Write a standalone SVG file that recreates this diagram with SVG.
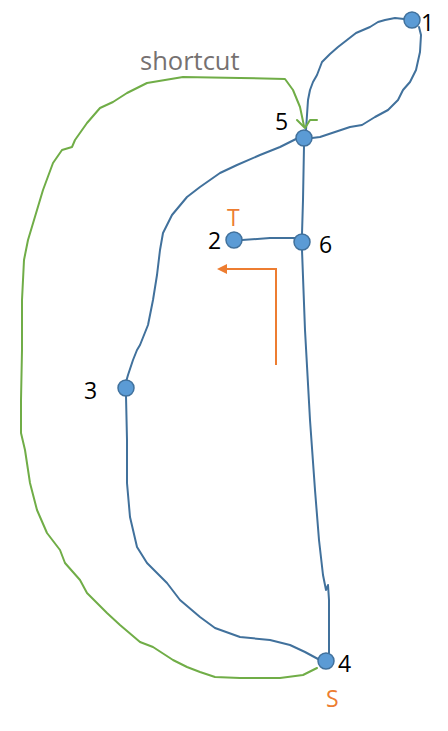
<svg xmlns="http://www.w3.org/2000/svg" width="448" height="731" viewBox="0 0 448 731">
<style>
.e{fill:none;stroke:#41719c;stroke-width:2;stroke-linejoin:round;stroke-linecap:round}
.g{fill:none;stroke:#70ad47;stroke-width:2;stroke-linejoin:round;stroke-linecap:round}
.o{fill:none;stroke:#ed7d31;stroke-width:2}
.n{fill:#5b9bd5;stroke:#41719c;stroke-width:1.5}
.l{font-family:"Open Sans","Noto Sans",sans-serif;font-size:23px;fill:#000}
.st{font-family:"Open Sans","Noto Sans",sans-serif;font-size:23px;fill:#ed7d31}
</style>
<defs>
<marker id="oa" markerWidth="10" markerHeight="10" refX="8" refY="5" orient="auto" markerUnits="userSpaceOnUse">
<path d="M0,0 L10,5 L0,10 Z" fill="#ed7d31"/>
</marker>
</defs>
<g id="connectors">
<path class="e" d="M404,19 L395,18 L385,20 L378,22 L370,27 L356,33 L347,40 L338,47 L330,54 L322,62 L317,75 L313,82 L310,90 L308,100 L307,115 L306,130"/>
<path class="e" d="M419,27 L421,35 L420,52 L416,70 L410,82 L403,90 L398,100 L388,110 L375,117 L362,125 L350,127 L335,132 L320,137 L312,138"/>
<path class="e" d="M298,138 L280,147 L260,155 L237,165 L220,173 L200,187 L187,197 L172,215 L163,233 L160,250 L157,275 L153,300 L148,325 L140,345 L137,350 L133,360 L128,375 L126,382"/>
<path class="e" d="M126,396 L127,440 L127,483 L130,517 L137,547 L147,563 L167,583 L180,600 L200,617 L215,628 L240,637 L270,640 L290,645 L305,652 L318,659"/>
<path class="e" d="M304,146 L303,200 L302,234"/>
<path class="e" d="M242,240 L270,238 L302,238"/>
<path class="e" d="M302,250 L305,330 L310,420 L315,490 L319,540 L323,575 L326,590 L328,585 L329,600 L329,653"/>
<path class="g" d="M317,668 L303,675 L280,678 L260,678 L240,678 L215,677 L200,672 L187,667 L173,660 L153,647 L140,642 L120,625 L107,613 L87,593 L80,580 L65,563 L60,550 L47,533 L37,510 L30,483 L25,450 L21,433 L21,400 L22,350 L22,300 L24,260 L28,240 L37,210 L43,190 L53,163 L62,150 L72,147 L75,140 L87,123 L100,108 L113,102 L127,93 L147,83 L183,77 L240,78 L285,79 L293,90 L300,107 L304,126"/>
<path class="g" d="M297,120 L305,128 L310,120 L317,120"/>
<path class="o" d="M276,365 L276,269 L219,269" marker-end="url(#oa)"/>
</g>
<g id="node1"><circle class="n" cx="412" cy="20" r="8"/><text class="l" x="421" y="31">1</text></g>
<g id="node5"><circle class="n" cx="304" cy="138" r="8"/><text class="l" x="275" y="130">5</text></g>
<g id="node2"><circle class="n" cx="234" cy="240" r="8"/><text class="l" x="208" y="249">2</text><text class="st" x="227" y="226">T</text></g>
<g id="node6"><circle class="n" cx="302" cy="242" r="8"/><text class="l" x="319" y="253">6</text></g>
<g id="node3"><circle class="n" cx="126" cy="388" r="8"/><text class="l" x="84" y="399">3</text></g>
<g id="node4"><circle class="n" cx="326" cy="661" r="8"/><text class="l" x="338" y="672">4</text><text class="st" x="326" y="707">S</text></g>
<text x="140" y="70" font-family="Open Sans, Noto Sans, sans-serif" font-size="25.5" fill="#767171">shortcut</text>
</svg>
